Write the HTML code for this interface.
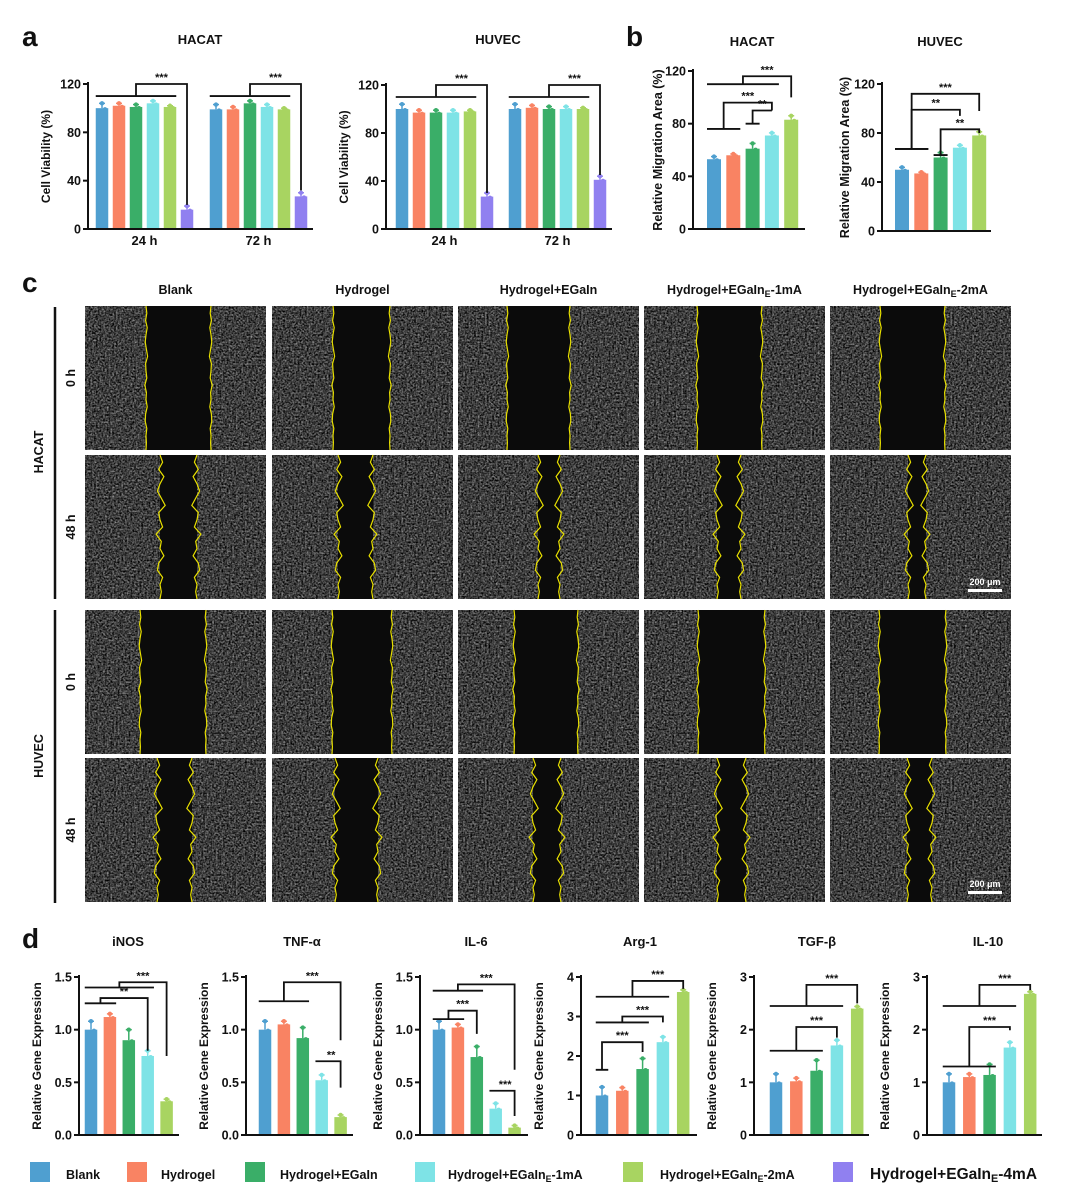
<!DOCTYPE html>
<html><head><meta charset="utf-8"><style>
html,body{margin:0;padding:0;background:#fff;}
svg{display:block;font-family:"Liberation Sans",Arial,sans-serif;}
text{font-weight:bold;fill:#111;}
</style></head><body>
<svg id="fig" width="1080" height="1194" viewBox="0 0 1080 1194" xmlns="http://www.w3.org/2000/svg">
<defs>
<filter id="noise" x="0" y="0" width="1" height="1" color-interpolation-filters="sRGB">
<feTurbulence type="fractalNoise" baseFrequency="0.55" numOctaves="2" seed="3"/>
<feColorMatrix type="matrix" values="0.8 0.4 0 0 -0.36  0.8 0.4 0 0 -0.36  0.8 0.4 0 0 -0.36  0 0 0 0 1"/>
</filter>
</defs>
<g>
<text x="22" y="46" font-size="28">a</text>
<text x="626" y="46" font-size="28">b</text>
<text x="22" y="292" font-size="28">c</text>
<text x="22" y="948" font-size="28">d</text>
</g>
<g id="charts"></g>
<g id="micro"></g>
<g id="legend"></g>
</svg>
<script>
const colors=['#4f9fd0','#f98363','#3aae68','#7ee3e6','#a8d461','#9080f0'];
// Panel a
const aGroups=['24 h','72 h'];
const aHacat24=[100,102,101,104,101,16];
const aHacat72=[99,99,104,101,99,27];
const aHuvec24=[100,97,97,97,98,27];
const aHuvec72=[100,101,100,100,100,41];
const aErr=[4,2,2,2,1,3];
const aTicks=[0,40,80,120];
// Panel b
const bHacat=[53,56,61,71,83];
const bHuvec=[50,47,60,68,78];
const bErr=[2,1,4,2,3];
const bTicks=[0,40,80,120];
// Panel d
const dINOS=[1.0,1.12,0.9,0.75,0.32];
const dTNF=[1.0,1.05,0.92,0.52,0.17];
const dIL6=[1.0,1.02,0.74,0.25,0.07];
const dARG=[1.0,1.12,1.67,2.35,3.62];
const dTGF=[1.0,1.02,1.22,1.7,2.4];
const dIL10=[1.0,1.1,1.14,1.66,2.68];
const dErrSmall=[0.08,0.03,0.1,0.05,0.02];
const ticks15=[0,0.5,1.0,1.5];
const ticks4=[0,1,2,3,4];
const ticks3=[0,1,2,3];
const legendLabels=['Blank','Hydrogel','Hydrogel+EGaIn','Hydrogel+EGaIn_E-1mA','Hydrogel+EGaIn_E-2mA','Hydrogel+EGaIn_E-4mA'];

const NS='http://www.w3.org/2000/svg';
function mk(parent,tag,attrs){const e=document.createElementNS(NS,tag);for(const k in attrs)e.setAttribute(k,attrs[k]);parent.appendChild(e);return e;}
const charts=document.getElementById('charts');

function chart(c){
  const g=mk(charts,'g',{});
  
  
  const maxV=c.ticks[c.ticks.length-1];
  const y=v=>c.y0-(v/maxV)*(c.y0-c.yTop);
  const xc=(gi,i)=>c.x0+gi*c.groupGap+i*c.step;
  const t=mk(g,'text',{x:c.titleX,y:c.titleY,'font-size':13,'text-anchor':'middle'});t.textContent=c.title;
  
  
  c.series.forEach((vals,gi)=>{
    vals.forEach((v,i)=>{
      const x=xc(gi,i), bw=c.bw;
      const r=mk(g,'rect',{x:x-bw/2,y:y(v),width:bw,height:c.y0-y(v),fill:colors[i]});
      
      
      const e=c.err[i%c.err.length]*(c.errScale||1);
      mk(g,'line',{x1:x,x2:x,y1:y(v),y2:y(v+e),stroke:colors[i],'stroke-width':1.5});
      mk(g,'line',{x1:x-3,x2:x+3,y1:y(v+e),y2:y(v+e),stroke:colors[i],'stroke-width':1.5});
      mk(g,'circle',{cx:x,cy:y(v+e),r:2.2,fill:colors[i]});
      mk(g,'circle',{cx:x+3,cy:y(v)+1,r:2,fill:colors[i]});
    });
  });
  const ax=mk(g,'path',{d:`M${c.ax},${c.yTop-2}V${c.y0}H${c.axEnd}`,fill:'none',stroke:'#111','stroke-width':2});
  
  
  c.ticks.forEach(tv=>{
    mk(g,'line',{x1:c.ax-5,x2:c.ax,y1:y(tv),y2:y(tv),stroke:'#111','stroke-width':2});
    const tl=mk(g,'text',{x:c.ax-7,y:y(tv)+4.5,'font-size':12.5,'text-anchor':'end'});
    tl.textContent=c.fmt?c.fmt(tv):tv;
    
    
  });
  if(c.groups){c.groups.forEach((gn,gi)=>{
    const cx=(xc(gi,0)+xc(gi,c.series[gi].length-1))/2;
    const gl=mk(g,'text',{x:cx,y:c.y0+16,'font-size':13,'text-anchor':'middle'});gl.textContent=gn;
    
    
  });}
  const yt=mk(g,'text',{transform:`translate(${c.ytX},${(c.y0+c.yTop)/2}) rotate(-90)`,'font-size':c.ytSize||12,'text-anchor':'middle'});
  yt.textContent=c.ytitle;
  
  
  (c.br||[]).forEach(b=>{
    const [gi,i1,i2,v1,v2,k,v3,lab]=b;
    const xa=xc(gi,i1)-c.bw/2, xb=xc(gi,i2)+c.bw/2, xm=(xa+xb)/2, xk=xc(gi,k);
    const p=mk(g,'path',{d:`M${xa},${y(v1)}H${xb}M${xm},${y(v1)}V${y(v2)}H${xk}V${y(v3)}`,fill:'none',stroke:'#111','stroke-width':1.8});
    
    
    const s=mk(g,'text',{x:(xm+xk)/2,y:y(v2)-3,'font-size':11,'text-anchor':'middle'});s.textContent=lab;
    
    
  });
}
chart({name:'chart-a-hacat',title:'HACAT',titleX:200,titleY:44,x0:102,step:17,groupGap:114,bw:12.5,series:[aHacat24,aHacat72],err:aErr,y0:229,yTop:84,ticks:aTicks,ax:88,axEnd:313,groups:aGroups,ytitle:'Cell Viability (%)',ytX:50,
 br:[[0,0,4,110,120,5,20,'***'],[1,0,4,110,120,5,32,'***']]});
chart({name:'chart-a-huvec',title:'HUVEC',titleX:498,titleY:44,x0:402,step:17,groupGap:113,bw:12.5,series:[aHuvec24,aHuvec72],err:aErr,y0:229,yTop:85,ticks:aTicks,ax:386,axEnd:612,groups:aGroups,ytitle:'Cell Viability (%)',ytX:348,
 br:[[0,0,4,110,120,5,30,'***'],[1,0,4,110,120,5,45,'***']]});
chart({name:'chart-b-hacat',title:'HACAT',titleX:752,titleY:46,x0:714,step:19.3,groupGap:0,bw:14,series:[bHacat],err:bErr,y0:229,yTop:71,ticks:bTicks,ax:693,axEnd:805,ytitle:'Relative Migration Area (%)',ytX:662,ytSize:12.5,
 br:[[0,0,3,110,116,4,100,'***'],[0,0,1,76,96,3,90,'***'],[0,2,2,80,90,3,90,'**']]});
chart({name:'chart-b-huvec',title:'HUVEC',titleX:940,titleY:46,x0:902,step:19.3,groupGap:0,bw:14,series:[bHuvec],err:bErr,y0:231,yTop:84,ticks:bTicks,ax:882,axEnd:991,ytitle:'Relative Migration Area (%)',ytX:849,ytSize:12.5,
 br:[[0,0,1,67,112,4,98,'***'],[0,0,1,67,99,3,94,'**'],[0,2,2,62,83,4,80,'**']]});
const fmt1=v=>v.toFixed(1);
const dCfg=[
 ['chart-d-inos','iNOS',128,91,79,179,dINOS,ticks15,fmt1,[[0,0,3,1.4,1.45,4,0.75,'***'],[0,0,1,1.25,1.3,3,0.8,'**']]],
 ['chart-d-tnf','TNF-α',302,265,246,353,dTNF,ticks15,fmt1,[[0,0,2,1.27,1.45,4,0.9,'***'],[0,3,3,0.7,0.7,4,0.45,'**']]],
 ['chart-d-il6','IL-6',476,439,420,528,dIL6,ticks15,fmt1,[[0,0,2,1.37,1.43,4,0.62,'***'],[0,0,1,1.1,1.18,2,0.96,'***'],[0,3,3,0.42,0.42,4,0.18,'***']]],
 ['chart-d-arg1','Arg-1',640,602,581,697,dARG,ticks4,v=>v,[[0,0,3,3.5,3.9,4,3.7,'***'],[0,0,2,2.85,3.0,3,2.85,'***'],[0,0,0,1.65,2.35,2,2.1,'***']]],
 ['chart-d-tgfb','TGF-β',817,776,754,869,dTGF,ticks3,v=>v,[[0,0,3,2.45,2.85,4,2.5,'***'],[0,0,2,1.6,2.05,3,1.85,'***']]],
 ['chart-d-il10','IL-10',988,949,927,1042,dIL10,ticks3,v=>v,[[0,0,3,2.45,2.85,4,2.75,'***'],[0,0,2,1.3,2.05,3,1.99,'***']]]
];
dCfg.forEach(d=>{
 const mx=d[7][d[7].length-1];
 chart({name:d[0],title:d[1],titleX:d[2],titleY:946,x0:d[3],step:d[0]==='chart-d-inos'||d[0]==='chart-d-tnf'||d[0]==='chart-d-il6'?18.9:20.3,groupGap:0,bw:12.5,series:[d[6]],err:dErrSmall,errScale:mx/1.5,y0:1135,yTop:977,ticks:d[7],fmt:d[8],ax:d[4],axEnd:d[5],ytitle:'Relative Gene Expression',ytX:d[4]-38,ytSize:12,br:d[9]});
});

const micro=document.getElementById('micro');
const colX=[85,272,458,644,830];
const colW=181;
const rowY=[306,455,610,758];
const rowH=144;
const colTitles=['Blank','Hydrogel','Hydrogel+EGaIn','Hydrogel+EGaIn_E-1mA','Hydrogel+EGaIn_E-2mA'];
const gapL=[[146,333,507,697,880],[160,338,538,717,908],[140,332,514,698,879],[157,335,533,717,907]];
const gapR=[[211,390,570,762,945],[197,373,560,741,926],[206,392,578,765,946],[192,378,561,746,932]];
const wig=[0,2,-1,3,0,-2,1,4,-1,0,2,-3,1,0,3,-1,-2,2,0,1];
function edge(x0,y0,h,amp){let d='';const n=20;for(let i=0;i<=n;i++){const yy=y0+h*i/n;const xx=x0+wig[i%wig.length]*amp;d+=(i?'L':'M')+xx+','+yy;}return d;}
colTitles.forEach((t,ci)=>{
 const tx=mk(micro,'text',{x:colX[ci]+colW/2,y:294,'font-size':12.5,'text-anchor':'middle'});
 if(t.includes('_E')){const parts=t.split('_E');tx.appendChild(document.createTextNode(parts[0]));const s=mk(tx,'tspan',{'font-size':9,dy:3});s.textContent='E';const r=mk(tx,'tspan',{dy:-3});r.textContent=parts[1];}
 else tx.textContent=t;
 
 
});
rowY.forEach((ry,ri)=>{
 colX.forEach((cx,ci)=>{
  const g=mk(micro,'g',{});
  
  
  mk(g,'rect',{x:cx,y:ry,width:colW,height:rowH,fill:'#3a3a3a',filter:'url(#noise)'});
  const l=gapL[ri][ci],r=gapR[ri][ci];
  const amp=ri%2?1.3:0.4;
  mk(g,'rect',{x:l,y:ry,width:r-l,height:rowH,fill:'#0b0b0b'});
  mk(g,'path',{d:edge(l,ry,rowH,amp),fill:'none',stroke:'#e8e000','stroke-width':1.2});
  mk(g,'path',{d:edge(r,ry,rowH,-amp),fill:'none',stroke:'#e8e000','stroke-width':1.2});
 });
});
[[597,'scale-bar-hacat'],[899,'scale-bar-huvec']].forEach(s=>{
 mk(micro,'rect',{x:968,y:s[0]-8,width:34,height:3,fill:'#fff'});
 const t=mk(micro,'text',{x:985,y:s[0]-12,'font-size':9,'text-anchor':'middle',style:'fill:#fff'});t.textContent='200 μm';
 
 
});
mk(micro,'line',{x1:55,x2:55,y1:307,y2:599,stroke:'#111','stroke-width':2.5});
mk(micro,'line',{x1:55,x2:55,y1:610,y2:903,stroke:'#111','stroke-width':2.5});
[['HACAT',43,452],['0 h',75,378],['48 h',75,527],['HUVEC',43,756],['0 h',75,682],['48 h',75,830]].forEach(r=>{
 const t=mk(micro,'text',{transform:`translate(${r[1]},${r[2]}) rotate(-90)`,'font-size':12.5,'text-anchor':'middle'});t.textContent=r[0];
 
 
});

const leg=document.getElementById('legend');
const swX=[30,127,245,415,623,833];
const txX=[66,161,280,448,660,870];
legendLabels.forEach((lab,i)=>{
 const g=mk(leg,'g',{});
 
 
 mk(g,'rect',{x:swX[i],y:1162,width:20,height:20,fill:colors[i]});
 const fs=i===5?15.5:12.5;
 const t=mk(g,'text',{x:txX[i],y:1179,'font-size':fs});
 if(lab.includes('_E')){const p=lab.split('_E');t.appendChild(document.createTextNode(p[0]));const s=mk(t,'tspan',{'font-size':fs*0.7,dy:3});s.textContent='E';const r=mk(t,'tspan',{dy:-3});r.textContent=p[1];}
 else t.textContent=lab;
});
</script>
</body></html>
